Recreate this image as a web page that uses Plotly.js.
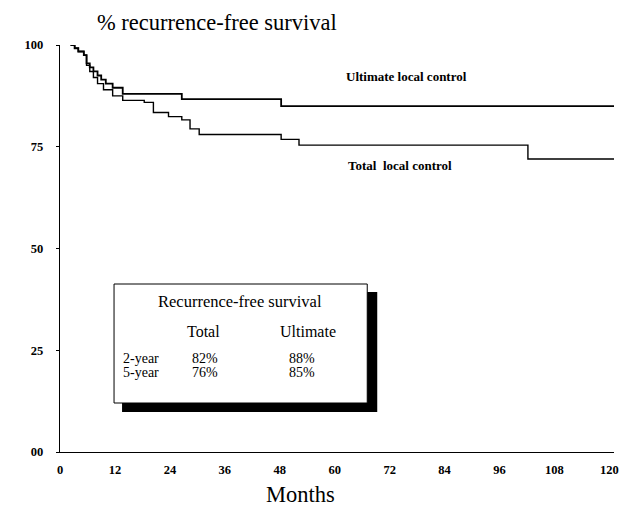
<!DOCTYPE html>
<html><head><meta charset="utf-8">
<script src="https://cdn.plot.ly/plotly-3.0.1.min.js"></script>
<style>html,body{margin:0;padding:0;background:#fff}</style>
</head><body><div id="chart" style="width:619px;height:506px"></div>
<script>
// Kaplan-Meier style step data (months, % recurrence-free)
const ultimateMonths = [2.3, 3.2, 4.0, 5.2, 5.8, 6.5, 7.3, 8.2, 9.0, 10.0, 11.5, 13.7, 26.6, 48.3, 121];
const ultimatePct    = [100, 99.2, 98.4, 97.5, 95.5, 94.5, 93.5, 92.5, 91.5, 90.5, 89.5, 88.0, 86.7, 85.0, 85.0];
const totalMonths = [2.3, 3.2, 4.0, 5.2, 5.8, 6.5, 7.3, 8.2, 9.5, 11.5, 13.7, 18.4, 20.4, 23.7, 26.6, 28.4, 30.4, 48.3, 52.2, 102.2, 121];
const totalPct    = [100, 99.2, 98.4, 97.5, 95.0, 93.5, 92.0, 90.5, 89.0, 87.5, 86.4, 85.9, 83.4, 82.4, 81.6, 79.4, 78.0, 76.8, 75.4, 72.0, 72.0];

const xTicks = [0, 12, 24, 36, 48, 60, 72, 84, 96, 108, 120];
const yTicks = [0, 25, 50, 75, 100];
const yTickText = ['00', '25', '50', '75', '100'];

const tableTitle = 'Recurrence-free survival';
const tableCols = ['Total', 'Ultimate'];
const tableRows = ['2-year', '5-year'];
const tableTotal = [82, 76];
const tableUltimate = [88, 85];

const serif = 'Liberation Serif, Times New Roman, serif';
// pixel -> data helpers for placing annotations/shapes
const L = 60, B = 452, pxm = 549/120, pxp = 407/100;
const mx = p => (p - L) / pxm;
const my = p => (B - p) / pxp;

const traces = [
  {x: ultimateMonths, y: ultimatePct, mode: 'lines', line: {shape: 'hv', color: '#000', width: 1.8}, hoverinfo: 'skip'},
  {x: totalMonths, y: totalPct, mode: 'lines', line: {shape: 'hv', color: '#000', width: 1.4}, hoverinfo: 'skip'}
];

const ann = [];
const txt = (text, x, y, size, anchor, weight) => ann.push({text, x: mx(x), y: my(y), xref: 'x', yref: 'y', showarrow: false, xanchor: anchor || 'center', yanchor: 'middle', font: {family: serif, size, color: '#000', weight: weight || 'normal'}});
txt('Ultimate local control', 406, 76, 13, 'center', 'bold');
txt('Total  local control', 400, 165, 13, 'center', 'bold');
txt(tableTitle, 240, 301, 16.5);
txt(tableCols[0], 203, 331, 16);
txt(tableCols[1], 308, 331, 16);
tableRows.forEach((r, i) => {
  const y = 358 + i * 14;
  txt(r, 121, y, 14, 'left');
  txt(tableTotal[i] + '%', 205, y, 14);
  txt(tableUltimate[i] + '%', 302, y, 14);
});
ann.push({text: '% recurrence-free survival', xref: 'paper', yref: 'paper', x: (95 - L) / (619 - L - 5.4), y: (B - 22) / 407, xanchor: 'left', yanchor: 'middle', showarrow: false, font: {family: serif, size: 22.5, color: '#000'}});
ann.push({text: 'Months', xref: 'paper', yref: 'paper', x: (300 - L) / (619 - L - 5.4), y: (B - 494) / 407, xanchor: 'center', yanchor: 'middle', showarrow: false, font: {family: serif, size: 22.5, color: '#000'}});

const shapes = [
  {type: 'rect', xref: 'x', yref: 'y', x0: mx(122), x1: mx(377), y0: my(412), y1: my(292), fillcolor: '#000', line: {width: 0}, layer: 'above'},
  {type: 'rect', xref: 'x', yref: 'y', x0: mx(114), x1: mx(367), y0: my(403), y1: my(284), fillcolor: '#fff', line: {color: '#000', width: 1}, layer: 'above'}
];

const layout = {
  width: 619, height: 506,
  margin: {l: 60, r: 5.4, t: 45, b: 54},
  paper_bgcolor: '#fff', plot_bgcolor: '#fff',
  showlegend: false,
  xaxis: {range: [0, 121], tickvals: xTicks, ticktext: xTicks.map(String), showgrid: false, zeroline: false,
          showline: true, linecolor: '#000', linewidth: 1.2, ticks: '', ticklabelstandoff: 6,
          tickfont: {family: serif, size: 12.5, color: '#000', weight: 'bold'}},
  yaxis: {range: [0, 100], tickvals: yTicks, ticktext: yTickText, showgrid: false, zeroline: false,
          showline: true, linecolor: '#000', linewidth: 1.2, ticks: 'outside', ticklen: 3, tickcolor: '#000', ticklabelstandoff: 10,
          tickfont: {family: serif, size: 12.5, color: '#000', weight: 'bold'}},
  annotations: ann,
  shapes: shapes
};
Plotly.newPlot('chart', traces, layout, {staticPlot: true, displayModeBar: false});
</script></body></html>
